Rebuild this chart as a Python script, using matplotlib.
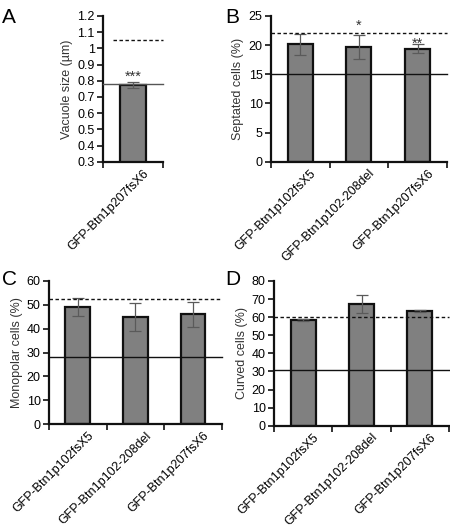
import numpy as np
import matplotlib
matplotlib.use("Agg")
import matplotlib.pyplot as plt
from matplotlib.transforms import ScaledTranslation

plt.rcParams["font.family"] = ["Liberation Sans", "DejaVu Sans"]
plt.rcParams["font.size"] = 9

strains = ["GFP-Btn1p102fsX5", "GFP-Btn1p102-208del", "GFP-Btn1p207fsX6"]

# A: vacuole size (one strain)
vac_labels = ["GFP-Btn1p207fsX6"]
vac_mean = [0.775]
vac_err = [0.02]
vac_dashed, vac_solid = 1.05, 0.78
vac_stars = ["***"]

# B: septated cells
sep_mean = [20.1, 19.7, 19.4]
sep_err = [1.8, 2.0, 0.7]
sep_dashed, sep_solid = 22.0, 15.0
sep_stars = ["", "*", "**"]

# C: monopolar cells
mono_mean = [49.2, 45.0, 46.0]
mono_err = [3.7, 5.8, 5.1]
mono_dashed, mono_solid = 52.5, 28.3

# D: curved cells
curv_mean = [58.6, 67.2, 63.4]
curv_err = [0.5, 4.8, 0.8]
curv_dashed, curv_solid = 60.3, 31.0

fig = plt.figure(figsize=(4.5, 5.29), dpi=100)


def panel(rect, labels, mean, err, dashed, solid, ylim, yticks,
          ylabel, stars=None, star_y=None, tick_fmt=None, dash_x0=0.0,
          solid_color="#111111"):
    ax = fig.add_axes(rect)
    n = len(labels)
    x = np.arange(n)
    ax.bar(x, mean, width=0.43, color="#808080", edgecolor="#111111",
           linewidth=1.6, zorder=2)
    ax.errorbar(x, mean, yerr=err, fmt="none", ecolor="#5a5a5a",
                elinewidth=0.9, capsize=4, capthick=0.9, zorder=3)
    ax.axhline(dashed, xmin=dash_x0, xmax=1, color="#111111", lw=1.0,
               ls=(0, (2.5, 1.8)), zorder=4, clip_on=False)
    ax.axhline(solid, color=solid_color, lw=1.0, zorder=4, clip_on=False)
    if stars:
        for xi, s, sy in zip(x, stars, star_y):
            if s:
                ax.text(xi, sy, s, ha="center", va="baseline", fontsize=10.5,
                        color="#333333")
    ax.set_xlim(-0.5, n - 0.5)
    ax.set_ylim(*ylim)
    ax.set_yticks(yticks)
    if tick_fmt:
        ax.set_yticklabels([tick_fmt(t) for t in yticks])
    ax.set_xticks(x)
    ax.set_xticklabels(labels, rotation=45, ha="right", va="top",
                       rotation_mode="anchor")
    ax.set_xticks(np.arange(n + 1) - 0.5, minor=True)
    ax.tick_params(axis="x", which="major", length=0, pad=4)
    ax.tick_params(axis="x", which="minor", length=4, width=1.2,
                   direction="out", color="#111111")
    ax.tick_params(axis="y", length=4, width=1.2, direction="out",
                   color="#111111", pad=2)
    for lab in ax.get_xticklabels():
        lab.set_transform(lab.get_transform()
                          + ScaledTranslation(0.1, 0.0, fig.dpi_scale_trans))
    for side in ["top", "right"]:
        ax.spines[side].set_visible(False)
    for side in ["left", "bottom"]:
        ax.spines[side].set_linewidth(1.6)
        ax.spines[side].set_color("#111111")
    ax.set_ylabel(ylabel, color="#333333", labelpad=3)
    return ax


axA = panel([0.229, 0.694, 0.133, 0.276], vac_labels, vac_mean, vac_err,
            vac_dashed, vac_solid, (0.3, 1.2),
            [0.3, 0.4, 0.5, 0.6, 0.7, 0.8, 0.9, 1.0, 1.1, 1.2],
            "Vacuole size (µm)", stars=vac_stars, star_y=[0.80],
            tick_fmt=lambda t: f"{t:g}", dash_x0=0.17, solid_color="#555555")
axB = panel([0.602, 0.694, 0.391, 0.276], strains, sep_mean, sep_err,
            sep_dashed, sep_solid, (0, 25), [0, 5, 10, 15, 20, 25],
            "Septated cells (%)", stars=sep_stars, star_y=[0, 22.6, 19.6])
axC = panel([0.109, 0.198, 0.384, 0.271], strains, mono_mean, mono_err,
            mono_dashed, mono_solid, (0, 60), [0, 10, 20, 30, 40, 50, 60],
            "Monopolar cells (%)")
axD = panel([0.609, 0.195, 0.389, 0.274], strains, curv_mean, curv_err,
            curv_dashed, curv_solid, (0, 80),
            [0, 10, 20, 30, 40, 50, 60, 70, 80], "Curved cells (%)")

for letter, (fx, fy) in zip("ABCD", [(0.005, 0.985), (0.5, 0.985),
                                      (0.005, 0.49), (0.5, 0.49)]):
    fig.text(fx, fy, letter, fontsize=15, ha="left", va="top")

fig.savefig("out.png", dpi=100)
